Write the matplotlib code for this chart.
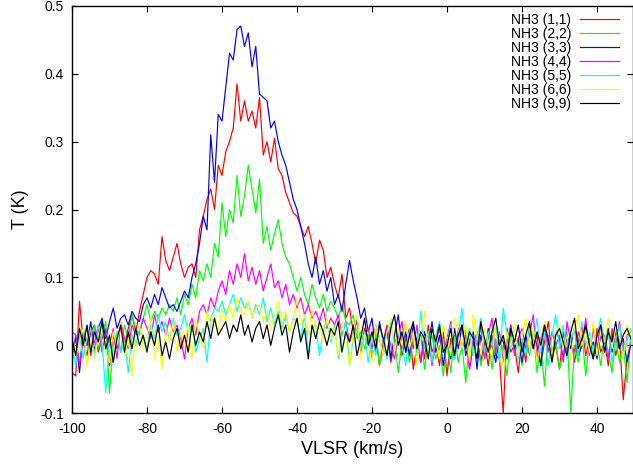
import numpy as np
import matplotlib
matplotlib.use("Agg")
import matplotlib.pyplot as plt

plt.rcParams['font.family'] = ['Liberation Sans', 'DejaVu Sans']
plt.rcParams['axes.unicode_minus'] = False

# velocity channels, 1 km/s apart, -100 .. 49 km/s
vlsr = np.arange(-100, 50)

# antenna temperatures, in mK (rows of 10 channels)
t11_mK = [
    -40, -45, 65, 5, -15, 20, 30, -10, 10, 25,
    -30, 15, -5, 30, 0, 25, 45, 20, 50, 75,
    100, 110, 105, 90, 160, 125, 110, 130, 150, 120,
    100, 115, 120, 100, 170, 190, 215, 230, 200, 265,
    250, 285, 300, 320, 385, 330, 360, 330, 345, 320,
    365, 280, 300, 270, 305, 260, 250, 225, 210, 195,
    190, 175, 160, 175, 150, 120, 155, 140, 100, 115,
    90, 70, 105, 40, 55, 20, 35, -10, 25, 10,
    -20, 15, -30, 5, 30, -25, 0, 20, -15, 10,
    25, -35, 0, 15, -20, 30, -10, 5, -30, 20,
    -45, 10, -20, 25, -5, 15, -35, 0, 20, -25,
    5, -30, 15, -15, -20, -100, 25, -10, 0, -40,
    10, -25, 30, -5, 15, -30, 5, 35, -20, 0,
    -35, 20, -10, 15, -25, 5, 30, -15, 10, -20,
    25, -10, 5, -30, 20, -15, 10, -80, -20, 5,
]
t22_mK = [
    -20, 10, -35, 25, 5, -15, 30, -5, 15, 35,
    -70, 0, 20, -10, 30, 10, 45, 25, 15, 40,
    60, 35, 50, 40, 55, 45, 60, 50, 70, 45,
    75, 60, 90, 70, 110, 95, 120, 100, 150, 130,
    210, 160, 200, 180, 250, 190, 220, 265, 230, 195,
    245, 150, 175, 140, 165, 185, 150, 130, 120, 100,
    80, 100, 75, 60, 90, 70, 55, 75, 50, 65,
    55, 40, 60, 35, 30, 45, 10, 20, -5, 15,
    -15, 20, -30, 0, 25, -20, 10, -40, 5, 15,
    -25, 10, -10, 20, -35, 5, 15, -20, 0, -45,
    5, -40, 15, -25, 0, -55, 10, -15, 20, -30,
    -5, 15, -35, 10, -20, 0, -45, 20, -10, 5,
    -30, 10, -15, 25, -40, 0, -60, 15, -20, 5,
    -35, -10, 20, -100, 0, -25, 15, -45, 10, -20,
    5, -30, 15, -10, -40, 10, -25, 0, -55, 15,
]
t33_mK = [
    -25, 15, -40, 20, 0, 35, -10, 25, 40, 10,
    35, 55, 25, 40, 45, 30, 50, 40, 35, 60,
    70, 55, 75, 60, 85, 70, 55, 60, 50, 65,
    80, 70, 100, 120, 150, 190, 170, 310, 240, 340,
    330, 380, 430, 420, 465, 470, 440, 460, 410, 440,
    370, 365, 360, 320, 330, 300, 280, 265, 240, 215,
    200, 175, 150, 120, 100, 130, 90, 110, 80, 100,
    60, 75, 50, 90, 125, 95, 70, 40, 55, 20,
    40, -10, 35, 5, 25, -20, 15, 45, -5, 20,
    -15, 30, 5, -25, 20, 0, 35, -10, 15, -30,
    10, -20, 25, -5, 30, -15, 5, 20, -35, 15,
    -10, 25, 0, -25, 15, 5, -20, 30, -5, 10,
    -25, 15, -10, 20, 0, -30, 25, 5, -15, 20,
    10, -20, 15, -5, 25, -15, 0, 30, -10, 5,
    -20, 15, 0, 25, -10, 20, -5, 10, -25, 0,
]
t44_mK = [
    20, 15, -30, 10, 25, -15, 5, 30, -10, 20,
    0, 25, -20, 35, 10, -5, 30, 15, 20, 40,
    25, 10, 45, 20, 35, 15, 40, 20, 30, 10,
    -20, 25, 40, 15, 50, 60, 45, 70, 55, 80,
    95, 75, 110, 90, 120, 100, 135, 95, 115, 90,
    110, 80, 100, 120, 85, 95, 70, 90, 60, 75,
    55, 70, 45, 60, 40, 50, 35, 55, 25, 40,
    30, 45, 15, 35, 5, 20, 40, -10, 15, 25,
    -5, 30, 10, -15, 25, 0, -20, 15, 35, -10,
    20, -5, 30, -25, 10, 15, -30, 5, 25, -10,
    10, 35, -15, 20, -5, 25, -35, 10, 0, 30,
    -20, 15, 40, -10, 20, -25, 5, 30, -15, 10,
    25, -5, 15, 45, -20, 10, 30, -10, 20, 0,
    15, -25, 35, 5, -10, 20, 0, 40, -15, 25,
    -5, 30, 10, -20, 25, 5, 35, -10, 15, 20,
]
t55_mK = [
    0, -30, 15, -20, 10, 25, -15, 30, 5, -70,
    10, -25, 20, -10, 5, -40, 15, 0, 25, 10,
    -5, 30, 10, 45, 20, 35, 5, 40, 15, 25,
    45, 20, 30, -10, 10, 25, -25, 40, 55, 50,
    65, 45, 60, 75, 50, 70, 55, 65, 40, 60,
    45, 70, 35, 55, 30, 50, 25, 45, 20, 40,
    35, 10, 45, -10, 25, 30, -15, 20, 40, 5,
    30, -20, 15, 35, -30, 10, 25, -5, 20, -25,
    15, -15, 30, 5, -20, 40, -10, 20, 0, -30,
    25, 10, -15, 50, -5, 20, -25, 15, 35, -10,
    5, 30, -20, 15, 55, -5, 25, -15, 10, 40,
    -10, 20, 0, 35, -25, 55, 15, -5, 30, -20,
    10, -15, 25, 5, 40, -10, 20, -30, 15, 45,
    -5, 30, -20, 10, 25, -15, 35, 0, 20, -10,
    15, 40, -5, 20, -25, 10, 30, -15, 5, 25,
]
t66_mK = [
    20, -15, 5, 25, -30, 10, -20, 15, 30, -10,
    -25, 20, 0, 35, -15, 10, -45, 20, 30, -5,
    15, 40, -20, 10, -35, 25, 5, 35, -10, 20,
    0, 30, -20, 40, 15, -5, 50, 30, 45, 20,
    55, 35, 60, 40, 70, 50, 45, 65, 40, 55,
    60, 35, 50, 25, 45, 65, 30, 50, 20, 40,
    70, 30, 45, 15, 55, 20, 35, 5, 40, 10,
    25, -15, 35, 10, -30, 20, 45, -20, 15, 5,
    -25, 30, 10, -15, 20, 40, -10, 25, 0, 35,
    -5, 20, -30, 15, 50, -10, 25, 5, -20, 30,
    10, -15, 40, 20, -5, 30, -25, 45, 15, -10,
    25, 5, -20, 35, 10, -35, 20, 0, 30, -15,
    15, 40, -10, 25, -25, 5, 35, 10, -15, 20,
    30, -5, 15, -20, 25, 45, 0, 20, -10, 35,
    -15, 20, 5, 40, -5, 25, 10, -20, 30, 15,
]
t99_mK = [
    10, -15, 25, 0, 30, -10, 20, 5, 35, -5,
    15, -25, 10, 30, -10, 20, -5, 25, 0, 15,
    -10, 20, 0, 30, -15, 5, -20, 10, 25, -5,
    15, -10, 30, 0, 20, 5, 35, 10, 40, 15,
    25, 35, 10, 30, 20, 45, 15, 30, 5, 25,
    35, 10, 30, 0, 25, 45, 15, 30, -10, 20,
    40, 5, 25, -20, 30, 10, 35, 20, 0, 25,
    15, 35, -10, 20, 5, 30, -15, 10, 40, 0,
    20, -5, 30, 10, -15, 25, 45, 0, 20, -10,
    15, 35, -5, 20, 10, -20, 25, 5, 30, -10,
    0, 25, -15, 15, 30, -5, 20, 10, -20, 35,
    10, -10, 20, 40, 0, 15, -15, 25, 5, 30,
    -10, 15, 35, -5, 20, 0, 30, 10, -25, 15,
    25, 5, -15, 20, 40, -5, 10, 30, 0, -20,
    15, 30, -10, 20, 5, 35, -5, 15, 25, 10,
]

labels = ["NH3 (1,1)", "NH3 (2,2)", "NH3 (3,3)", "NH3 (4,4)",
          "NH3 (5,5)", "NH3 (6,6)", "NH3 (9,9)"]
series = [t11_mK, t22_mK, t33_mK, t44_mK, t55_mK, t66_mK, t99_mK]
colors = ["#ff0000", "#00ff00", "#0000ff", "#ff00ff", "#00ffff", "#ffff00", "#000000"]

fig = plt.figure(figsize=(6.33, 4.65), dpi=100)
ax = fig.add_axes([72/633, 1 - 413.3/465, 1 - 72/633, (413.3 - 5.7)/465])

for t, lab, c in zip(series, labels, colors):
    ax.plot(vlsr, np.array(t) / 1000.0, color=c, lw=0.85, label=lab)

ax.set_xlim(-100, 49.6)
ax.set_ylim(-0.1, 0.5)
ax.set_xticks(np.arange(-100, 41, 20))
ax.set_yticks(np.arange(-0.1, 0.51, 0.1))
ax.set_yticklabels(["-0.1", "0", "0.1", "0.2", "0.3", "0.4", "0.5"])
ax.tick_params(direction="in", length=4.5, width=0.8, top=True, right=True,
               labelsize=10, pad=6)
for s in ax.spines.values():
    s.set_linewidth(1.0)

ax.set_xlabel("VLSR (km/s)", fontsize=13, labelpad=4)
ax.set_ylabel("T (K)", fontsize=13, labelpad=8)

ax.legend(loc="upper right", bbox_to_anchor=(0.975, 0.983), frameon=False,
          markerfirst=False, fontsize=10, handlelength=2.8, handletextpad=0.65,
          labelspacing=0.0, borderpad=0, borderaxespad=0)

fig.savefig("out.png", dpi=100)
